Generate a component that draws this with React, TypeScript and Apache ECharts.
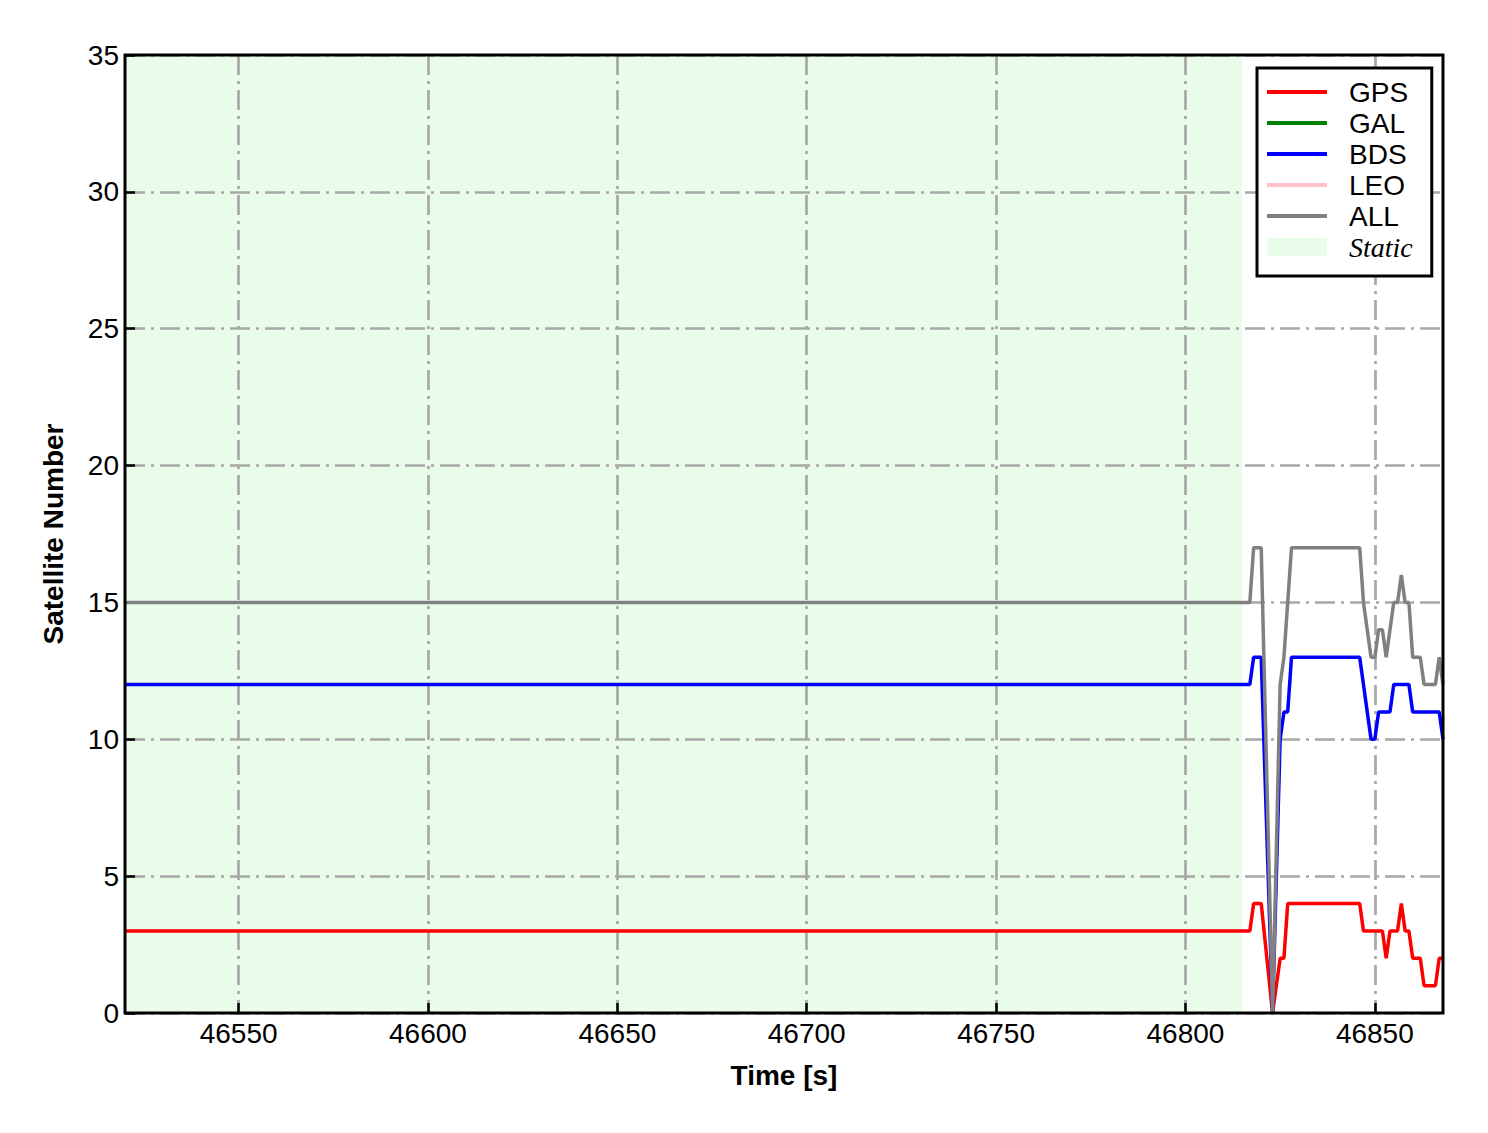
import React, { useEffect, useRef } from "react";
import * as echarts from "echarts";

// Epoch times [s] (flat stretches are given by their end points)
const TIME = [
  46520, 46817, 46818, 46820, 46823, 46825, 46826, 46827, 46828,
  46846, 46847, 46848, 46849, 46850, 46851, 46852, 46853, 46854, 46855, 46856,
  46857, 46858, 46859, 46860, 46861, 46862, 46863, 46864, 46865, 46866, 46867, 46868,
];
const GPS = [
  3, 3, 4, 4, 0, 2, 2, 4, 4,
  4, 3, 3, 3, 3, 3, 3, 2, 3, 3, 3,
  4, 3, 3, 2, 2, 2, 1, 1, 1, 1, 2, 2,
];
const GAL: number[] = [];
const BDS = [
  12, 12, 13, 13, 0, 10, 11, 11, 13,
  13, 12, 11, 10, 10, 11, 11, 11, 11, 12, 12,
  12, 12, 12, 11, 11, 11, 11, 11, 11, 11, 11, 10,
];
const LEO: number[] = [];
const ALL = [
  15, 15, 17, 17, 0, 12, 13, 15, 17,
  17, 15, 14, 13, 13, 14, 14, 13, 14, 15, 15,
  16, 15, 15, 13, 13, 13, 12, 12, 12, 12, 13, 12,
];
const STATIC_RANGE = [46520, 46815];
const X_TICKS = [46550, 46600, 46650, 46700, 46750, 46800, 46850];
const X_MIN = 46520;
const X_MAX = 46868;

const FONT = "'Liberation Sans', Arial, sans-serif";
const GRID_LINE = { color: "#a8a8a8", width: 2.7, type: [20, 6, 3, 6] as number[] };
const LINE_ICON = "path://M0,7L60,7L60,11L0,11Z";
const RECT_ICON = "path://M0,0L60,0L60,18L0,18Z";

function pairs(vals: number[]) {
  return vals.map((v, i) => [TIME[i], v]);
}

export default function App() {
  const ref = useRef<HTMLDivElement>(null);
  useEffect(() => {
    if (!ref.current) return;
    const chart = echarts.init(ref.current, undefined, { renderer: "svg" });
    const lineSeries = (name: string, color: string, vals: number[]) => ({
      name,
      type: "line",
      data: pairs(vals),
      showSymbol: false,
      symbol: "none",
      color,
      lineStyle: { color, width: 3.5 },
      z: 2,
    });
    chart.setOption({
      animation: false,
      backgroundColor: "#ffffff",
      textStyle: { fontFamily: FONT },
      grid: {
        left: 125,
        right: 45,
        top: 55,
        bottom: 120,
        show: true,
        borderColor: "#000000",
        borderWidth: 3,
        backgroundColor: "transparent",
        z: 3,
      },
      xAxis: {
        type: "value",
        min: X_MIN,
        max: X_MAX,
        z: 1.5,
        name: "Time [s]",
        nameLocation: "middle",
        nameGap: 48,
        nameTextStyle: { fontSize: 28, fontWeight: "bold", color: "#000", fontFamily: FONT },
        axisLine: { show: false },
        axisTick: {
          show: true,
          inside: true,
          length: 10,
          customValues: X_TICKS,
          lineStyle: { color: "#000", width: 2.5 },
        },
        axisLabel: {
          customValues: X_TICKS,
          formatter: (v: number) => String(v),
          fontSize: 28,
          color: "#000",
          margin: 6,
          fontFamily: FONT,
        },
        splitLine: { show: true, lineStyle: GRID_LINE },
      },
      yAxis: {
        type: "value",
        min: 0,
        max: 35,
        interval: 5,
        z: 1.5,
        name: "Satellite Number",
        nameLocation: "middle",
        nameGap: 58,
        nameTextStyle: { fontSize: 28, fontWeight: "bold", color: "#000", fontFamily: FONT },
        axisLine: { show: false },
        axisTick: { show: true, inside: true, length: 10, lineStyle: { color: "#000", width: 2.5 } },
        axisLabel: { fontSize: 28, color: "#000", margin: 6, fontFamily: FONT },
        splitLine: { show: true, lineStyle: GRID_LINE },
      },
      legend: {
        orient: "vertical",
        left: 1257,
        top: 68,
        padding: [10, 19, 15, 10],
        itemGap: 3,
        itemWidth: 60,
        itemHeight: 18,
        backgroundColor: "#ffffff",
        borderColor: "#000000",
        borderWidth: 3,
        borderRadius: 0,
        textStyle: { fontSize: 28, color: "#000", fontFamily: FONT, padding: [0, 0, 0, 17] },
        data: [
          { name: "GPS", icon: LINE_ICON },
          { name: "GAL", icon: LINE_ICON },
          { name: "BDS", icon: LINE_ICON },
          { name: "LEO", icon: LINE_ICON },
          { name: "ALL", icon: LINE_ICON },
          {
            name: "Static",
            icon: RECT_ICON,
            textStyle: { fontStyle: "italic", fontFamily: "'Liberation Serif', 'Times New Roman', serif" },
          },
        ],
      },
      series: [
        {
          name: "Static",
          type: "line",
          data: [],
          color: "#e9fce9",
          itemStyle: { color: "#e9fce9" },
          markArea: {
            silent: true,
            z: 1,
            itemStyle: { color: "#e9fce9" },
            data: [[{ xAxis: STATIC_RANGE[0] }, { xAxis: STATIC_RANGE[1] }]],
          },
        },
        lineSeries("GPS", "#ff0000", GPS),
        lineSeries("GAL", "#008000", GAL),
        lineSeries("BDS", "#0000ff", BDS),
        lineSeries("LEO", "#ffc0cb", LEO),
        lineSeries("ALL", "#808080", ALL),
      ],
    });
    return () => chart.dispose();
  }, []);
  return (
    <div
      ref={ref}
      style={{ position: "absolute", left: 0, top: 0, width: 1488, height: 1133 }}
    />
  );
}
